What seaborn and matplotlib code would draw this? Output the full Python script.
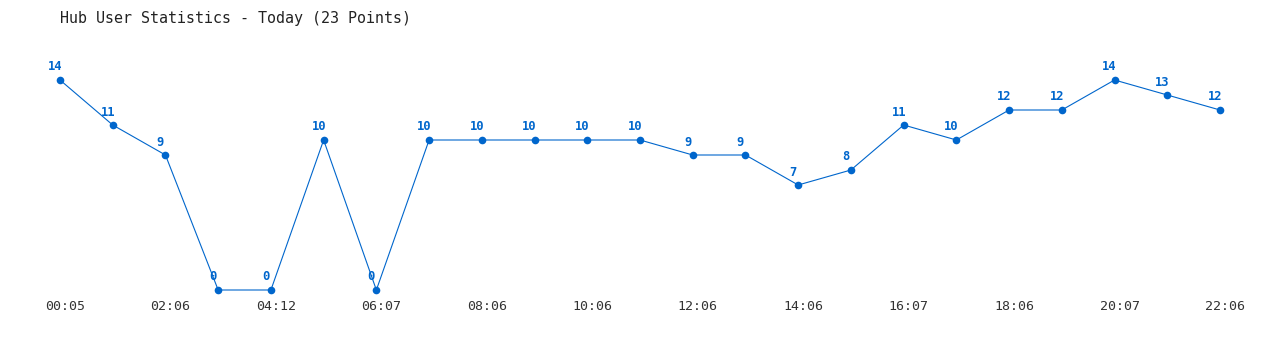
import matplotlib
matplotlib.use("Agg")
import matplotlib.pyplot as plt
import matplotlib.transforms as mtransforms
import seaborn as sns
import pandas as pd

times = ["00:05", "01:06", "02:06", "03:06", "04:12", "05:06", "06:07", "07:06",
         "08:06", "09:06", "10:06", "11:06", "12:06", "13:06", "14:06", "15:06",
         "16:07", "17:06", "18:06", "19:06", "20:07", "21:06", "22:06"]
users = [14, 11, 9, 0, 0, 10, 0, 10, 10, 10, 10, 10, 9, 9, 7, 8, 11, 10, 12, 12, 14, 13, 12]
tick_labels = ["00:05", "02:06", "04:12", "06:07", "08:06", "10:06",
               "12:06", "14:06", "16:07", "18:06", "20:07", "22:06"]
title = "Hub User Statistics - Today (23 Points)"

df = pd.DataFrame({"idx": range(len(users)), "time": times, "users": users})

sns.set_style("white")
plt.rcParams["font.family"] = ["DejaVu Sans Mono", "DejaVu Sans"]

color = "#0066cc"
fig = plt.figure(figsize=(12.8, 3.5), dpi=100)
ax = fig.add_axes([60 / 1280, 60 / 350, 1160 / 1280, 210 / 350])
sns.lineplot(data=df, x="idx", y="users", ax=ax, color=color, linewidth=0.8,
             marker="o", markersize=5.5, markeredgewidth=0, clip_on=False)
ax.set_xlim(0, len(users) - 1)
ax.set_ylim(0, 14)
for s in ax.spines.values():
    s.set_visible(False)
ax.set_yticks([])
ax.set_xlabel("")
ax.set_ylabel("")
ax.set_xticks(list(range(0, len(users), 2)))
ax.set_xticklabels(tick_labels, fontsize=9.5, color="#333333")
ax.tick_params(axis="x", length=0, pad=7)
off = mtransforms.ScaledTranslation(5 / 100, 0, fig.dpi_scale_trans)
for lab in ax.get_xticklabels():
    lab.set_transform(lab.get_transform() + off)

for i, v in enumerate(users):
    ax.annotate(str(v), (i, v), xytext=(-5, 13), textcoords="offset pixels",
                ha="center", va="center", fontsize=8.7, fontweight="bold",
                color=color)

fig.text(60 / 1280, 1 - 18 / 350, title, fontsize=10.8, color="#222222",
         ha="left", va="center")
fig.savefig("out.png", dpi=100)
